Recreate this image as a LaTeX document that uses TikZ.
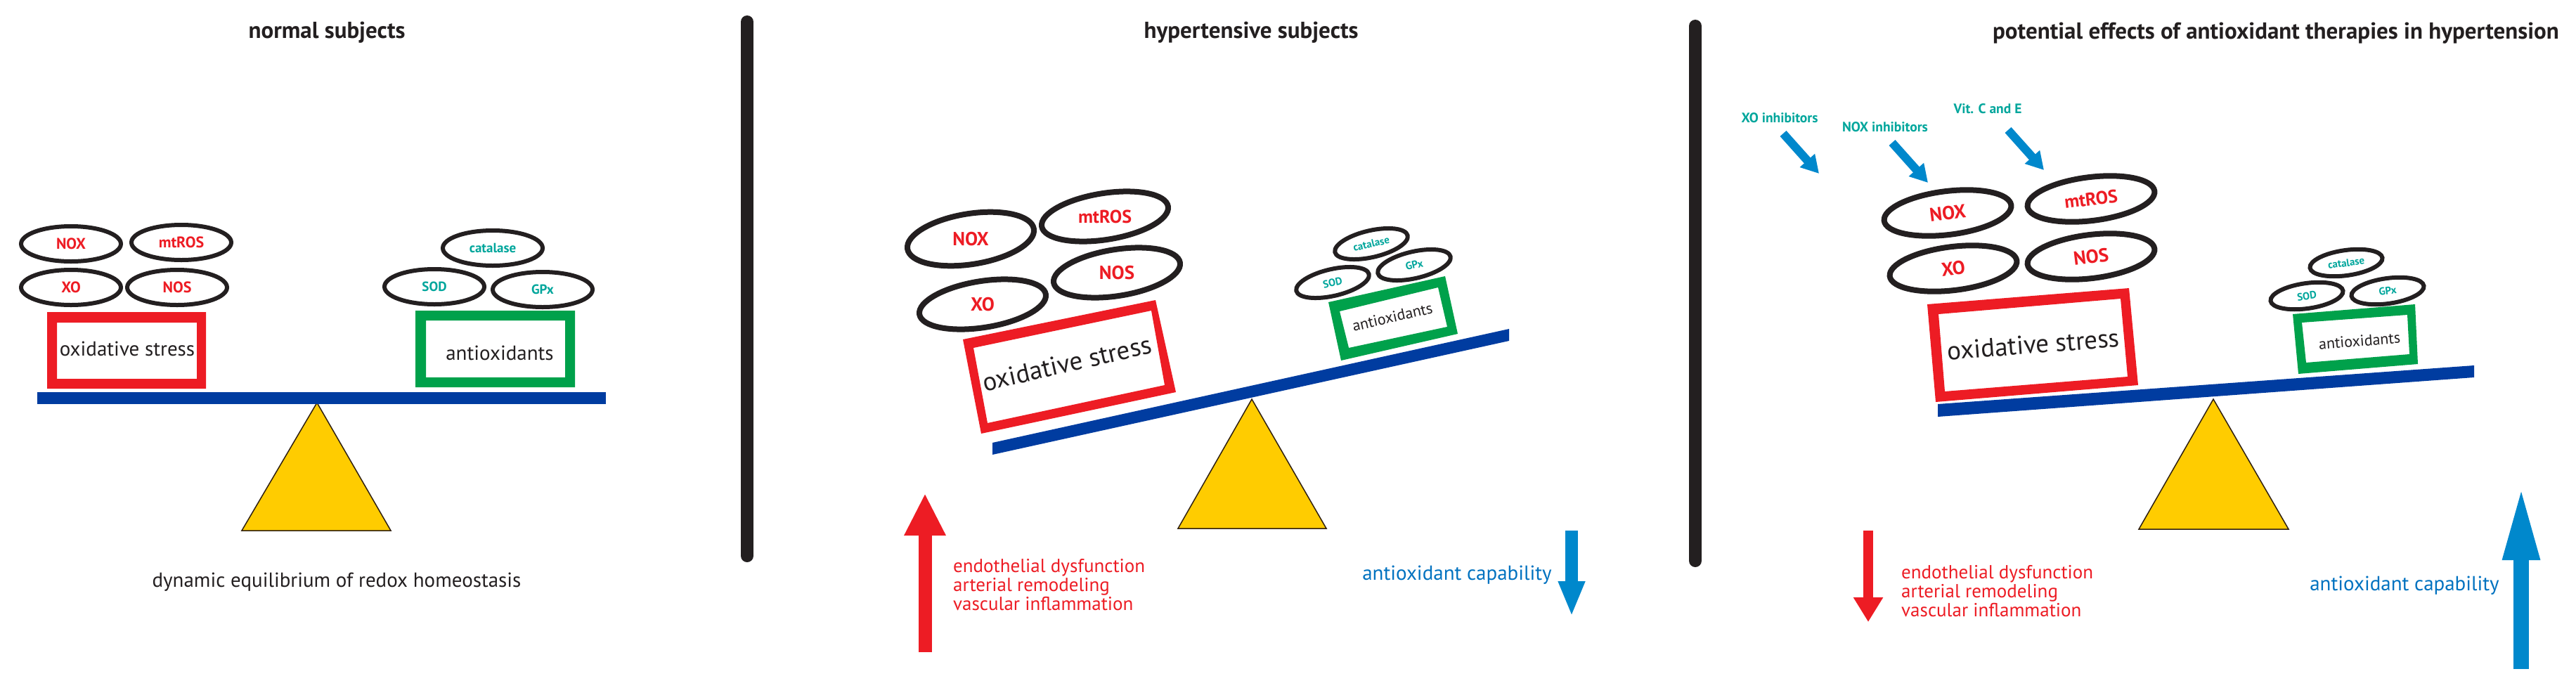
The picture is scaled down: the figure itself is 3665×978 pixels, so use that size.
\documentclass[tikz,border=0pt]{standalone}
\usepackage{fontspec}
\setmainfont{PT Sans}
\usetikzlibrary{shapes.geometric,arrows.meta}
\definecolor{cred}{RGB}{237,28,36}
\definecolor{cgreen}{RGB}{0,161,75}
\definecolor{cbeam}{RGB}{0,60,160}
\definecolor{cyellow}{RGB}{255,204,0}
\definecolor{cteal}{RGB}{0,166,156}
\definecolor{carrow}{RGB}{0,136,204}
\definecolor{ctext}{RGB}{0,114,192}
\definecolor{cblack}{RGB}{35,31,32}
\newcommand\fsz[1]{\fontsize{#1}{#1}\selectfont}
\begin{document}
\begin{tikzpicture}[x=1pt,y=-1pt,
  ovl/.style={draw=cblack, ellipse, inner sep=0pt, text=cred},
  tovl/.style={draw=cblack, ellipse, inner sep=0pt, text=cteal},
  redlab/.style={inner sep=0pt, text=cred},
  lbl/.style={inner sep=0pt, text=cblack},
  ttl/.style={inner sep=0pt, text=cblack, font=\bfseries\fsz{33}},
  redlines/.style={inner sep=0pt, text=cred, align=left, anchor=west, font=\fsz{27}},
  capab/.style={inner sep=0pt, text=ctext, font=\fsz{29}},
  inh/.style={inner sep=0pt, text=cteal, font=\bfseries\fsz{19.5}},
  tri/.style={fill=cyellow, draw=black!75!brown, line width=1.5pt, line join=miter},
  inharrow/.style={carrow, line width=12pt, -{Triangle[width=27pt,length=25pt]}}
]
\useasboundingbox (0,0) rectangle (3665,978);
\fill[white] (0,0) rectangle (3665,978);

% separators
\coordinate (s1a) at (1063,31); \coordinate (s1b) at (1063,791);
\coordinate (s2a) at (2412,37); \coordinate (s2b) at (2412,798);
\draw[cblack, line width=18pt, line cap=round] (s1a) -- (s1b);
\draw[cblack, line width=18pt, line cap=round] (s2a) -- (s2b);

% titles
\node[ttl] (t1) at (465,46) {normal subjects};
\node[ttl] (t2) at (1780,46) {hypertensive subjects};
\node[ttl] (t3) at (3238,47) {potential effects of antioxidant therapies in hypertension};

% ================= panel 1 =================
\filldraw[tri] (451,573) -- (556,755) -- (344,755) -- cycle;
\fill[cbeam] (53,558) rectangle (862,575);
\fill[cred, even odd rule] (67,444) rectangle (293,553) (81,459) rectangle (280,539);
\fill[cgreen, even odd rule] (591,442) rectangle (818,551) (606,456) rectangle (804,537);
\node[lbl, font=\fsz{29}] (a1ox) at (181,496) {oxidative stress};
\node[lbl, font=\fsz{29}] (a1an) at (711,502) {antioxidants};

\node[ovl, line width=6pt, minimum width=142pt, minimum height=50pt, font=\bfseries\fsz{22}] (a1nox) at (101,347) {NOX};
\node[ovl, line width=6pt, minimum width=142pt, minimum height=50pt, font=\bfseries\fsz{22}] (a1mt) at (258,345) {mtROS};
\node[ovl, line width=6pt, minimum width=142pt, minimum height=50pt, font=\bfseries\fsz{22}] (a1xo) at (101,409) {XO};
\node[ovl, line width=6pt, minimum width=142pt, minimum height=50pt, font=\bfseries\fsz{22}] (a1nos) at (252,409) {NOS};
\node[tovl, line width=6pt, minimum width=142pt, minimum height=50pt, font=\bfseries\fsz{19}] (a1cat) at (701,353) {catalase};
\node[tovl, line width=6pt, minimum width=142pt, minimum height=50pt, font=\bfseries\fsz{19}] (a1sod) at (618,408) {SOD};
\node[tovl, line width=6pt, minimum width=142pt, minimum height=50pt, font=\bfseries\fsz{19}] (a1gpx) at (772,412) {GPx};

\node[lbl, font=\fsz{29}] (a1eq) at (479,828) {dynamic equilibrium of redox homeostasis};

% ================= panel 2 =================
\filldraw[tri] (1781,568) -- (1887,752) -- (1676,752) -- cycle;
\fill[cbeam] (1412,630) -- (2147,468) -- (2147,485) -- (1412,647) -- cycle;
\fill[cred, even odd rule] (1370,483) -- (1644,427) -- (1673,558) -- (1396,617) -- cycle
   (1385,495) -- (1638,442) -- (1657,548) -- (1405,602) -- cycle;
\fill[cgreen, even odd rule] (1890,430) -- (2056,393) -- (2074,475) -- (1908,513) -- cycle
   (1906,443) -- (2046,409) -- (2059,465) -- (1919,495) -- cycle;
\node[lbl, font=\fsz{37}, rotate=13] (b2ox) at (1518,517) {oxidative stress};
\node[lbl, font=\fsz{22}, rotate=13] (b2an) at (1981,451) {antioxidants};

\node[ovl, line width=8pt, minimum width=182pt, minimum height=72pt, rotate=9] (b2nox) at (1381,340) {};
\node[ovl, line width=8pt, minimum width=182pt, minimum height=66pt, rotate=9] (b2mt) at (1572,308) {};
\node[ovl, line width=8pt, minimum width=182pt, minimum height=66pt, rotate=9] (b2nos) at (1589,388) {};
\node[ovl, line width=8pt, minimum width=182pt, minimum height=66pt, rotate=9] (b2xo) at (1398,433) {};
\node[redlab, font=\bfseries\fsz{27}] (b2noxl) at (b2nox.center) {NOX};
\node[redlab, font=\bfseries\fsz{26}] (b2mtl) at (b2mt.center) {mtROS};
\node[redlab, font=\bfseries\fsz{27}] (b2nosl) at (b2nos.center) {NOS};
\node[redlab, font=\bfseries\fsz{27}] (b2xol) at (b2xo.center) {XO};
\node[tovl, line width=6pt, minimum width=106pt, minimum height=38pt, rotate=13, font=\bfseries\fsz{15}] (b2cat) at (1951,347) {catalase};
\node[tovl, line width=6pt, minimum width=106pt, minimum height=38pt, rotate=13, font=\bfseries\fsz{15}] (b2gpx) at (2012,377) {GPx};
\node[tovl, line width=6pt, minimum width=106pt, minimum height=38pt, rotate=13, font=\bfseries\fsz{15}] (b2sod) at (1896,402) {SOD};

\coordinate (b2ra) at (1316,928); \coordinate (b2rb) at (1316,702);
\draw[cred, line width=19pt, -{Triangle[width=55pt,length=60pt]}] (b2ra) -- (b2rb);
\node[redlines] (b2txt) at (1356,832) {endothelial dysfunction\\arterial remodeling\\vascular inflammation};
\node[capab] (b2cap) at (2073,818) {antioxidant capability};
\coordinate (b2ba) at (2236,755); \coordinate (b2bb) at (2236,877);
\draw[carrow, line width=18pt, -{Triangle[width=35pt,length=50pt]}] (b2ba) -- (b2bb);

% ================= panel 3 =================
\filldraw[tri] (3149,568) -- (3256,753) -- (3043,753) -- cycle;
\fill[cbeam] (2757,575) -- (3520,520) -- (3520,537) -- (2757,593) -- cycle;
\fill[cred, even odd rule] (2742,433) -- (3029,410) -- (3042,548) -- (2754,572) -- cycle
   (2758,447) -- (3017,425) -- (3027,536) -- (2767,557) -- cycle;
\fill[cgreen, even odd rule] (3262,447) -- (3436,433) -- (3440,518) -- (3270,532) -- cycle
   (3275,459) -- (3425,448) -- (3428,504) -- (3281,516) -- cycle;
\node[lbl, font=\fsz{37}, rotate=4.5] (c3ox) at (2893,490) {oxidative stress};
\node[lbl, font=\fsz{22}, rotate=4.5] (c3an) at (3357,485) {antioxidants};

\node[ovl, line width=8pt, minimum width=182pt, minimum height=62pt, rotate=7, font=\bfseries\fsz{27}] (c3nox) at (2771,303) {NOX};
\node[ovl, line width=8pt, minimum width=182pt, minimum height=62pt, rotate=7, font=\bfseries\fsz{26}] (c3mt) at (2975,283) {mtROS};
\node[ovl, line width=8pt, minimum width=182pt, minimum height=62pt, rotate=7, font=\bfseries\fsz{27}] (c3xo) at (2779,382) {XO};
\node[ovl, line width=8pt, minimum width=182pt, minimum height=62pt, rotate=7, font=\bfseries\fsz{27}] (c3nos) at (2975,365) {NOS};
\node[tovl, line width=6pt, minimum width=104pt, minimum height=36pt, rotate=8, font=\bfseries\fsz{15}] (c3cat) at (3338,374) {catalase};
\node[tovl, line width=6pt, minimum width=104pt, minimum height=36pt, rotate=8, font=\bfseries\fsz{15}] (c3sod) at (3282,421) {SOD};
\node[tovl, line width=6pt, minimum width=104pt, minimum height=36pt, rotate=8, font=\bfseries\fsz{15}] (c3gpx) at (3397,414) {GPx};

\node[inh] (i1) at (2532,168) {XO inhibitors};
\node[inh] (i2) at (2682,181) {NOX inhibitors};
\node[inh] (i3) at (2828,155) {Vit. C and E};
\coordinate (i1a) at (2537,190); \coordinate (i1b) at (2588,247);
\coordinate (i2a) at (2692,203); \coordinate (i2b) at (2743,260);
\coordinate (i3a) at (2857,185); \coordinate (i3b) at (2908,242);
\draw[inharrow] (i1a) -- (i1b);
\draw[inharrow] (i2a) -- (i2b);
\draw[inharrow] (i3a) -- (i3b);

\coordinate (c3ra) at (2658,755); \coordinate (c3rb) at (2658,885);
\draw[cred, line width=14pt, -{Triangle[width=40pt,length=35pt]}] (c3ra) -- (c3rb);
\node[redlines] (c3txt) at (2705,841) {endothelial dysfunction\\arterial remodeling\\vascular inflammation};
\node[capab] (c3cap) at (3421,833) {antioxidant capability};
\coordinate (c3ba) at (3587,952); \coordinate (c3bb) at (3587,688);
\draw[carrow, line width=22pt, -{Triangle[width=47pt,length=109pt]}] (c3ba) -- (c3bb);
\end{tikzpicture}
\end{document}
